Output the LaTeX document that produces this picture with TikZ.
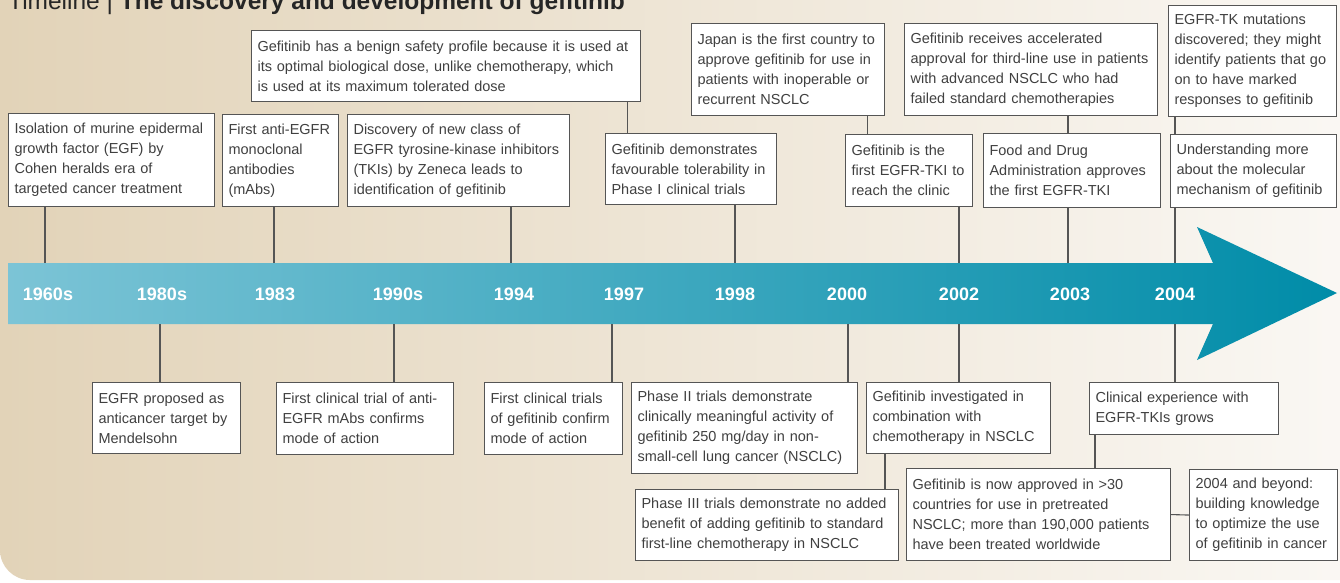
\documentclass[tikz,border=0pt]{standalone}
\usepackage{fontspec}
\setmainfont{Liberation Sans}
\usepackage{tikz}
\definecolor{bgtan}{RGB}{226,211,184}
\definecolor{bgpale}{RGB}{251,249,246}
\definecolor{arrowlight}{RGB}{124,196,214}
\definecolor{arrowmid}{RGB}{0,166,190}
\definecolor{arrowdark}{RGB}{0,140,168}
\definecolor{inkgray}{RGB}{64,64,64}
\definecolor{framegray}{RGB}{85,85,85}

\begin{document}
\begin{tikzpicture}[x=1pt, y=-1pt,
  event/.style={draw=framegray, line width=1.1pt, fill=white, text=inkgray, anchor=north west,
    align=left, inner xsep=6pt, inner ysep=2pt, font=\fontsize{14.5}{20}\selectfont},
  year/.style={anchor=base, text=white, font=\fontsize{18}{18}\selectfont\bfseries},
  wire/.style={draw=framegray, line width=1.1pt}]
  \useasboundingbox (0,0) rectangle (1340,582);
  \begin{scope}
    \clip (0,0) rectangle (1340,582);
    \shade[left color=bgtan, right color=bgpale, rounded corners=30pt] (0,-60) rectangle (1400,580);
    \node[anchor=base west, inner sep=0pt, text=black!85, font=\fontsize{24.5}{25}\selectfont] (title) at (8,9.5)
      {Timeline | \textbf{The discovery and development of gefitinib}};
  \end{scope}
  \shade[left color=arrowlight, middle color=arrowmid, right color=arrowdark]
    (8,263) -- (1213,263) -- (1197,227) -- (1337,293) -- (1197,360) -- (1213,324) -- (8,324) -- cycle;
  \node[year] (y1960) at (48,300) {1960s};
  \node[year] (y1980) at (162,300) {1980s};
  \node[year] (y1983) at (275,300) {1983};
  \node[year] (y1990) at (398,300) {1990s};
  \node[year] (y1994) at (514,300) {1994};
  \node[year] (y1997) at (624,300) {1997};
  \node[year] (y1998) at (735,300) {1998};
  \node[year] (y2000) at (847,300) {2000};
  \node[year] (y2002) at (959,300) {2002};
  \node[year] (y2003) at (1070,300) {2003};
  \node[year] (y2004) at (1175,300) {2004};
  \coordinate (t60) at (45,263);
  \coordinate (t83) at (274,263);
  \coordinate (t94) at (511,263);
  \coordinate (t98) at (735,263);
  \coordinate (t02) at (959,263);
  \coordinate (t03) at (1068,263);
  \coordinate (t04) at (1175,263);
  \coordinate (b80) at (160,324);
  \coordinate (b90) at (394,324);
  \coordinate (b97) at (612,324);
  \coordinate (b00) at (848,324);
  \coordinate (b02) at (959,324);
  \coordinate (b04) at (1175,324);
  % above the arrow
  \node[event, text width=194pt, minimum height=93pt] (isol) at (8,113)
    {Isolation of murine epidermal\\growth factor (EGF) by\\Cohen heralds era of\\targeted cancer treatment};
  \node[event, text width=104pt, minimum height=92pt] (mabs) at (222,114)
    {First anti-EGFR\\monoclonal\\antibodies\\(mAbs)};
  \node[event, text width=210pt, minimum height=92pt] (tki) at (347,114)
    {Discovery of new class of\\EGFR tyrosine-kinase inhibitors\\(TKIs) by Zeneca leads to\\identification of gefitinib};
  \node[event, text width=377pt, minimum height=71pt] (benign) at (251,30)
    {Gefitinib has a benign safety profile because it is used at\\its optimal biological dose, unlike chemotherapy, which\\is used at its maximum tolerated dose};
  \node[event, text width=159pt, minimum height=71pt] (phase1) at (605,133)
    {Gefitinib demonstrates\\favourable tolerability in\\Phase I clinical trials};
  \node[event, text width=181pt, minimum height=92pt] (japan) at (691,23)
    {Japan is the first country to\\approve gefitinib for use in\\patients with inoperable or\\recurrent NSCLC};
  \node[event, text width=115pt, minimum height=72pt] (firsttki) at (845,134)
    {Gefitinib is the\\first EGFR-TKI to\\reach the clinic};
  \node[event, text width=241pt, minimum height=92pt] (accel) at (904,23)
    {Gefitinib receives accelerated\\approval for third-line use in patients\\with advanced NSCLC who had\\failed standard chemotherapies};
  \node[event, text width=165pt, minimum height=74pt] (fda) at (983,133)
    {Food and Drug\\Administration approves\\the first EGFR-TKI};
  \node[event, text width=156pt, minimum height=111pt] (mut) at (1168,5)
    {EGFR-TK mutations\\discovered; they might\\identify patients that go\\on to have marked\\responses to gefitinib};
  \node[event, text width=154pt, minimum height=73pt] (mech) at (1170,134)
    {Understanding more\\about the molecular\\mechanism of gefitinib};
  % below the arrow
  \node[event, text width=136pt, minimum height=71pt] (mendel) at (92,382)
    {EGFR proposed as\\anticancer target by\\Mendelsohn};
  \node[event, text width=165pt, minimum height=72pt] (mabtrial) at (276,382)
    {First clinical trial of anti-\\EGFR mAbs confirms\\mode of action};
  \node[event, text width=126pt, minimum height=72pt] (gefconf) at (484,382)
    {First clinical trials\\of gefitinib confirm\\mode of action};
  \node[event, text width=214pt, minimum height=91pt] (phase2) at (631,382)
    {Phase II trials demonstrate\\clinically meaningful activity of\\gefitinib 250 mg/day in non-\\small-cell lung cancer (NSCLC)};
  \node[event, text width=172pt, minimum height=71pt] (combo) at (866,382)
    {Gefitinib investigated in\\combination with\\chemotherapy in NSCLC};
  \node[event, text width=251pt, minimum height=71pt] (phase3) at (635,489)
    {Phase III trials demonstrate no added\\benefit of adding gefitinib to standard\\first-line chemotherapy in NSCLC};
  \node[event, text width=177pt, minimum height=52pt] (clinexp) at (1089,382)
    {Clinical experience with\\EGFR-TKIs grows};
  \node[event, text width=252pt, minimum height=92pt] (approved) at (906,468)
    {Gefitinib is now approved in >30\\countries for use in pretreated\\NSCLC; more than 190,000 patients\\have been treated worldwide};
  \node[event, text width=136pt, minimum height=91pt] (beyond) at (1189,469)
    {2004 and beyond:\\building knowledge\\to optimize the use\\of gefitinib in cancer};
  % connectors
  \draw[wire] (isol.south -| t60) -- (t60);
  \draw[wire] (mabs.south -| t83) -- (t83);
  \draw[wire] (tki.south -| t94) -- (t94);
  \draw[wire] (phase1.south -| t98) -- (t98);
  \draw[wire] (firsttki.south -| t02) -- (t02);
  \draw[wire] (fda.south -| t03) -- (t03);
  \draw[wire] (mech.south -| t04) -- (t04);
  \draw[wire] ([xshift=-14pt]benign.south east) -- ([xshift=-14pt]benign.south east |- phase1.north);
  \draw[wire] ([xshift=-18pt]japan.south east) -- ([xshift=-18pt]japan.south east |- firsttki.north);
  \draw[wire] (accel.south -| t03) -- (fda.north -| t03);
  \draw[wire] (mut.south -| t04) -- (mech.north -| t04);
  \draw[wire] (b80) -- (b80 |- mendel.north);
  \draw[wire] (b90) -- (b90 |- mabtrial.north);
  \draw[wire] (b97) -- (b97 |- gefconf.north);
  \draw[wire] (b00) -- (b00 |- phase2.north);
  \draw[wire] (b02) -- (b02 |- combo.north);
  \draw[wire] (b04) -- (b04 |- clinexp.north);
  \draw[wire] ([xshift=19pt]combo.south west) -- ([xshift=19pt]combo.south west |- phase3.north);
  \draw[wire] ([xshift=6pt]clinexp.south west) -- ([xshift=6pt]clinexp.south west |- approved.north);
  \draw[wire] (approved.east) -- (beyond.west);
\end{tikzpicture}
\end{document}
